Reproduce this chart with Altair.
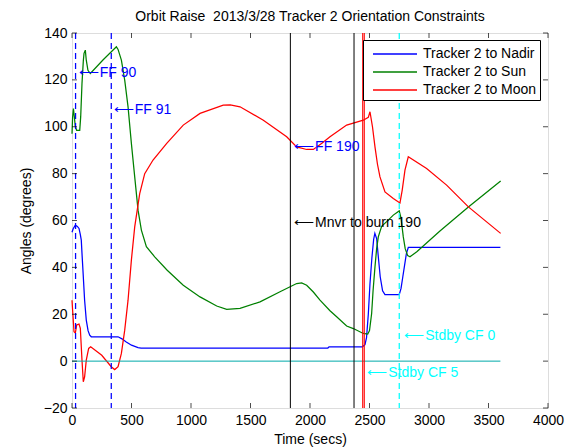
import altair as alt
import pandas as pd

FONT = "Liberation Sans"

x_ticks = [0, 500, 1000, 1500, 2000, 2500, 3000, 3500, 4000]
y_ticks = [-20, 0, 20, 40, 60, 80, 100, 120, 140]

series_names = ["Tracker 2 to Nadir", "Tracker 2 to Sun", "Tracker 2 to Moon"]
series_colors = ["#0000FF", "#008000", "#FF0000"]

nadir_t = [0, 10, 28, 45, 59, 70, 78, 85, 92, 106, 120, 135, 149, 162, 387, 420, 456, 500, 555, 580,
           2150, 2160, 2440, 2462, 2475, 2490, 2504, 2520, 2535, 2545, 2560, 2575, 2590, 2610, 2630,
           2700, 2750, 2765, 2780, 2795, 2810, 2826, 3000, 3600]
nadir_y = [55, 56.5, 58, 57.5, 56.6, 54, 51.6, 45, 38.8, 26, 17.5, 13, 11.1, 10.4, 10.4, 9.5, 8.2, 6.8, 5.8, 5.6,
           5.6, 6.1, 6.1, 7, 10, 20, 33, 44, 52, 54.5, 52.3, 44, 36, 30, 28.4,
           28.4, 28.4, 31, 36, 41, 45.9, 48.5, 48.5, 48.5]

sun_t = [0, 5, 12, 20, 28, 39, 65, 73, 84, 95, 101, 112, 120, 134, 154, 260, 373, 387, 415, 443, 471, 499,
         527, 555, 583, 625, 695, 800, 935, 1076, 1216, 1300, 1412, 1580, 1748, 1888, 1930, 1972, 2028,
         2084, 2168, 2224, 2308, 2364, 2448, 2485, 2500, 2518, 2530, 2546, 2560, 2574, 2602, 2644, 2700,
         2750, 2765, 2784, 2800, 2821, 2840, 2900, 3092, 3331, 3602]
sun_y = [97, 104, 107.8, 104, 100, 98.5, 98.5, 104.2, 118.5, 128, 131.3, 132.7, 128.4, 124.1, 122.7, 128.5,
         134.1, 133, 128.4, 119.9, 108.5, 92.9, 78.6, 64.4, 55.9, 48.8, 44.5, 38.8, 32.4, 27.4, 23.5, 22.1,
         22.5, 25.3, 29.6, 33.1, 33.4, 32.4, 29.5, 26, 21.5, 18.9, 15, 13.9, 11.8, 11.5, 13, 20.3, 30, 40.2,
         48, 53, 57.5, 59.5, 62.3, 64.1, 61, 53, 48, 45, 44.5, 46.8, 55.5, 65.8, 76.9]

moon_t = [0, 6, 17, 28, 39, 59, 70, 84, 95, 106, 120, 140, 157, 250, 330, 359, 387, 415, 443, 471, 499,
          527, 569, 611, 681, 796, 935, 1076, 1271, 1330, 1412, 1608, 1804, 1888, 1972, 2028, 2100, 2168,
          2308, 2448, 2490, 2504, 2525, 2546, 2567, 2588, 2630, 2700, 2756, 2775, 2798, 2826, 2980, 3148,
          3331, 3602]
moon_y = [26, 21, 12.5, 12, 15.4, 15.8, 14, 0.4, -8.8, -6.7, 0.4, 5.4, 6.1, 2.5, -2.4, -3.6, -2.4, 3.3, 13.2,
          26, 43.1, 57.3, 71.5, 80, 85.8, 92.9, 100.7, 105.7, 109.2, 109.3, 108.5, 102.8, 95.7, 91.4, 90.3,
          90.3, 93, 95.7, 100.7, 102.8, 104, 106.4, 100, 91.4, 84, 78.6, 72.2, 69.4, 67.5, 73, 81.5, 87.2,
          82.2, 75.1, 65.8, 54.5]

ff_events_t = [30, 330]          # blue dashed
mnvr_events_t = [1835, 2370]     # black solid
burn_events_t = [2443, 2456]     # red solid
stdby_events_t = [2750]          # cyan dashed
zero_span_t = [0, 3600]

ARROW = "\u27F5\u200A"
blue_notes = [ARROW + "FF 90", ARROW + "FF 91", ARROW + "FF 190"]
blue_notes_t = [55, 350, 1865]
blue_notes_y = [123, 107, 91.2]
black_notes = [ARROW + "Mnvr to burn 190"]
black_notes_t = [1865]
black_notes_y = [59]
cyan_notes = [ARROW + "Stdby CF 0", ARROW + "Stdby CF 5"]
cyan_notes_t = [2790, 2480]
cyan_notes_y = [10.7, -5]

rows = []
for name, ts, ys in zip(series_names, [nadir_t, sun_t, moon_t], [nadir_y, sun_y, moon_y]):
    for i, (t, y) in enumerate(zip(ts, ys)):
        rows.append({"series": name, "t": t, "angle": y, "i": i})
df = pd.DataFrame(rows)

W, H = 476, 375
xscale = alt.Scale(domain=[0, 4000], nice=False, zero=False)
yscale = alt.Scale(domain=[-20, 140], nice=False, zero=False)
common_axis = dict(grid=False, ticks=False, domain=False, labelFontSize=14, labelFont=FONT,
                   labelColor="black", titleFontSize=14, titleFont=FONT, titleColor="black",
                   titleFontWeight="normal", format="d")
xaxis = alt.Axis(values=x_ticks, title="Time (secs)", labelPadding=5, titlePadding=5,
                 labelFlush=False, **common_axis)
yaxis = alt.Axis(values=y_ticks, title="Angles (degrees)", labelPadding=5, titlePadding=10,
                 **common_axis)

lines = alt.Chart(df).mark_line(strokeWidth=1.25).encode(
    x=alt.X("t:Q", scale=xscale, axis=xaxis),
    y=alt.Y("angle:Q", scale=yscale, axis=yaxis),
    color=alt.Color("series:N", scale=alt.Scale(domain=series_names, range=series_colors),
                    legend=alt.Legend(title=None, orient="none", legendX=291, legendY=7,
                                      fillColor="white", strokeColor="black", padding=3,
                                      cornerRadius=0, symbolType="M-2.2,0L2.2,0", symbolSize=400,
                                      symbolStrokeWidth=1.5, symbolOffset=18, labelOffset=17,
                                      rowPadding=0, labelFontSize=14, labelFont=FONT,
                                      labelColor="black")),
    order="i:Q",
)

def vrules(ts, color, width, dash=None):
    kw = dict(color=color, strokeWidth=width)
    if dash:
        kw["strokeDash"] = dash
    return alt.Chart(pd.DataFrame({"t": ts})).mark_rule(**kw).encode(x=alt.X("t:Q", scale=xscale))

ff_rules = vrules(ff_events_t, "#0000FF", 1.25, [6, 4])
mnvr_rules = vrules(mnvr_events_t, "black", 1)
burn_rules = vrules(burn_events_t, "#FF0000", 1.1)
stdby_rules = vrules(stdby_events_t, "#00FFFF", 1.25, [6, 4])

zero_line = alt.Chart(pd.DataFrame({"t": [zero_span_t[0]], "t2": [zero_span_t[1]], "angle": [0]})).mark_rule(
    color="#00AAAA", strokeWidth=1).encode(
    x=alt.X("t:Q", scale=xscale), x2="t2:Q", y=alt.Y("angle:Q", scale=yscale))

def notes(texts, ts, ys, color):
    d = pd.DataFrame({"label": texts, "t": ts, "angle": ys})
    return alt.Chart(d).mark_text(align="left", baseline="middle", fontSize=14, font=FONT, color=color).encode(
        x=alt.X("t:Q", scale=xscale), y=alt.Y("angle:Q", scale=yscale), text="label:N")

blue_txt = notes(blue_notes, blue_notes_t, blue_notes_y, "#0000FF")
black_txt = notes(black_notes, black_notes_t, black_notes_y, "black")
cyan_txt = notes(cyan_notes, cyan_notes_t, cyan_notes_y, "#00FFFF")

xt = pd.DataFrame({"t": x_ticks})
yt = pd.DataFrame({"angle": y_ticks})
tick_bottom = alt.Chart(xt).mark_tick(color="black", size=5, thickness=1, orient="vertical").encode(
    x=alt.X("t:Q", scale=xscale), y=alt.value(H - 2.5))
tick_top = alt.Chart(xt).mark_tick(color="black", size=5, thickness=1, orient="vertical").encode(
    x=alt.X("t:Q", scale=xscale), y=alt.value(2.5))
tick_left = alt.Chart(yt).mark_tick(color="black", size=5, thickness=1, orient="horizontal").encode(
    y=alt.Y("angle:Q", scale=yscale), x=alt.value(2.5))
tick_right = alt.Chart(yt).mark_tick(color="black", size=5, thickness=1, orient="horizontal").encode(
    y=alt.Y("angle:Q", scale=yscale), x=alt.value(W - 2.5))

chart = alt.layer(
    lines, zero_line, ff_rules, mnvr_rules, burn_rules, stdby_rules,
    blue_txt, black_txt, cyan_txt, tick_bottom, tick_top, tick_left, tick_right,
).properties(
    width=W, height=H,
    title=alt.Title("Orbit Raise\u00a0 2013/3/28 Tracker 2 Orientation Constraints", fontSize=14,
                    font=FONT, fontWeight="normal", color="black", offset=2, frame="group"),
    autosize=alt.AutoSizeParams(type="none"),
    padding={"left": 64, "top": 25, "right": 19, "bottom": 39},
).configure_view(stroke="black", strokeWidth=1).configure(background="white")

chart.save("out.html", embed_options={"renderer": "svg", "actions": False})
